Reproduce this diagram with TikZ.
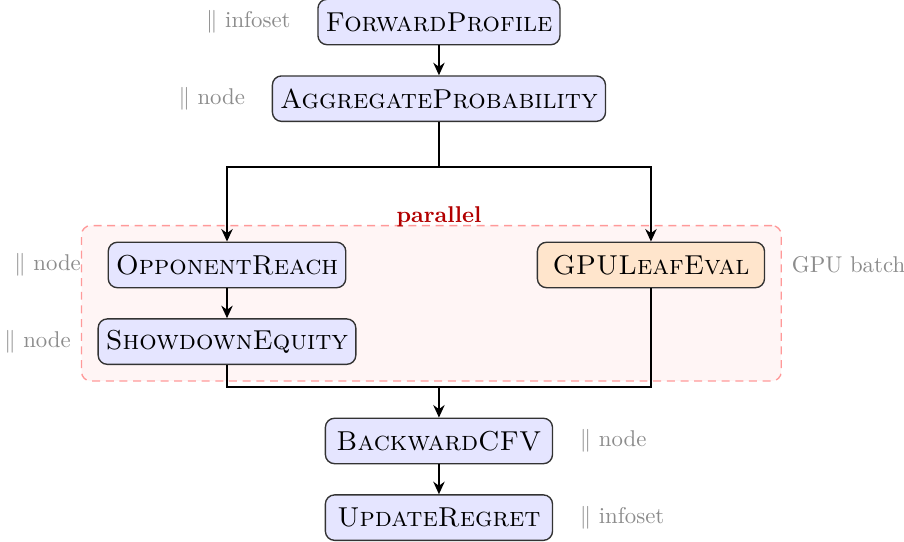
\documentclass[tikz,border=0pt]{standalone}
\usetikzlibrary{arrows, arrows.meta, positioning, fit, backgrounds}

\begin{document}
\begin{tikzpicture}[
  node distance = .46cm,
  stage/.style={draw=black!80, semithick, rounded corners=4pt, fill=blue!10, minimum width=3.5cm, minimum height=.7cm, font=\large\scshape},
  gpustage/.style={stage, fill=orange!20},
  note/.style={text=black!45},
  flow/.style={-{Stealth[length=5.5pt, width=5pt, inset=1.8pt]}, thick},
  thick]

  \useasboundingbox (0,0) rectangle (13.93,-8.34);

  \node[stage] (fp) at (6.764,-.339) {ForwardProfile};
  \node[stage, below=of fp] (ap) {AggregateProbability};
  \node[stage] (or) at (3.498,-4.083) {OpponentReach};
  \node[gpustage] (gpu) at (10.031,-4.083) {GPULeafEval};
  \node[stage, below=of or] (se) {ShowdownEquity};
  \node[stage] (bcfv) at (6.764,-6.795) {BackwardCFV};
  \node[stage, below=of bcfv] (ur) {UpdateRegret};

  % granularity notes
  \node[note, left=.28cm of fp] (fpnote) {$\|$ infoset};
  \node[note, left=.28cm of ap] (apnote) {$\|$ node};
  \node[note, left=.28cm of or] (ornote) {$\|$ node};
  \node[note, left=.28cm of se] (senote) {$\|$ node};
  \node[note, right=.28cm of gpu] (gpunote) {GPU batch};
  \node[note, right=.28cm of bcfv] (bcfvnote) {$\|$ node};
  \node[note, right=.28cm of ur] (urnote) {$\|$ infoset};

  \begin{scope}[on background layer]
    \node[fit=(or)(se)(gpu), inner sep=7pt, draw=red!40, semithick, dash pattern=on 3.5pt off 2.5pt, fill=red!4, rounded corners=4pt] (par) {};
  \end{scope}
  \node[font=\bfseries, text=red!70!black, anchor=base, yshift=1pt] (parlabel) at (ap |- par.north) {parallel};

  \coordinate[below=.69cm of ap] (split);
  \coordinate[above=.47cm of bcfv] (join);

  \draw[flow] (fp) -- (ap);
  \draw[thick] (ap.south) -- (split);
  \draw[flow] (split) -| (or.north);
  \draw[flow] (split) -| (gpu.north);
  \draw[flow] (or) -- (se);
  \draw[thick] (se.south) |- (join) -| (gpu.south);
  \draw[flow] (join) -- (bcfv);
  \draw[flow] (bcfv) -- (ur);
\end{tikzpicture}
\end{document}
